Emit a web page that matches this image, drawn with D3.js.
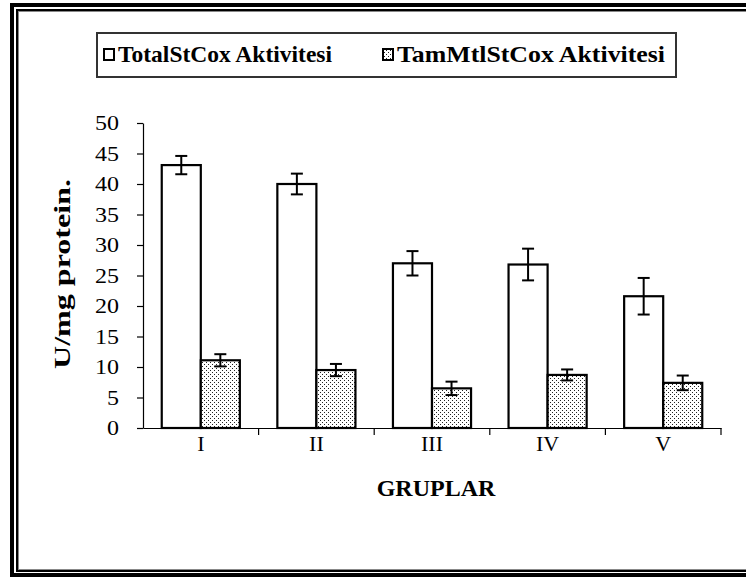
<!DOCTYPE html>
<html>
<head>
<meta charset="utf-8">
<script src="https://cdn.jsdelivr.net/npm/d3@7"></script>
<style>
  html, body { margin: 0; padding: 0; background: #fff; }
  svg { display: block; }
  svg text { font-family: "Times New Roman", "Liberation Serif", serif; fill: #000; }
</style>
</head>
<body>
<svg id="chart" width="746" height="577"></svg>
<script>
// Enzyme activity per group (U/mg protein), mean and error
const groups = ["I", "II", "III", "IV", "V"];
const seriesNames = ["TotalStCox Aktivitesi", "TamMtlStCox Aktivitesi"];
const totalValues = [43.1, 40.0, 27.0, 26.8, 21.6];
const totalErrors = [1.5, 1.7, 2.0, 2.6, 3.0];
const mtlValues = [11.1, 9.5, 6.5, 8.7, 7.4];
const mtlErrors = [1.0, 1.0, 1.1, 0.9, 1.2];
const yTickValues = [0, 5, 10, 15, 20, 25, 30, 35, 40, 45, 50];
const yTitle = "U/mg protein.";
const xTitle = "GRUPLAR";

const SERIF = '"Times New Roman", "Liberation Serif", serif';
const svg = d3.select("#chart");

// dotted fill for the second series
const defs = svg.append("defs");
const pat = defs.append("pattern")
  .attr("id", "dots").attr("patternUnits", "userSpaceOnUse")
  .attr("width", 4).attr("height", 4);
pat.append("rect").attr("width", 4).attr("height", 4).attr("fill", "#fff");
pat.append("rect").attr("x", 0).attr("y", 0).attr("width", 1).attr("height", 1).attr("fill", "#222");
pat.append("rect").attr("x", 2).attr("y", 2).attr("width", 1).attr("height", 1).attr("fill", "#222");

// double frame round the whole picture
svg.append("rect").attr("x", 12).attr("y", 5).attr("width", 800).attr("height", 570)
  .attr("fill", "none").attr("stroke", "#000").attr("stroke-width", 4);
svg.append("rect").attr("x", 17).attr("y", 10).attr("width", 800).attr("height", 561)
  .attr("fill", "none").attr("stroke", "#000").attr("stroke-width", 2);
svg.append("rect").attr("x", 18.5).attr("y", 11.5).attr("width", 800).attr("height", 558)
  .attr("fill", "none").attr("stroke", "#888").attr("stroke-width", 1);

// scales
const plotLeft = 143, plotRight = 721, plotTop = 123, plotBottom = 428;
const x = d3.scaleBand().domain(groups).range([plotLeft, plotRight]).padding(0);
const xSeries = d3.scaleBand().domain([0, 1]).range([0, x.bandwidth()])
  .paddingInner(0).paddingOuter(0.48);
const y = d3.scaleLinear().domain([0, 50]).range([plotBottom, plotTop]);

// y axis
const yAxis = svg.append("g").attr("transform", `translate(${plotLeft},0)`)
  .call(d3.axisLeft(y).tickValues(yTickValues).tickSize(6).tickSizeOuter(0).tickPadding(18));
yAxis.attr("font-family", null);
yAxis.select(".domain").attr("stroke", "#000").attr("stroke-width", 1.2);
yAxis.selectAll(".tick line").attr("stroke", "#000").attr("stroke-width", 1.2);
yAxis.selectAll(".tick text")
  .style("font-family", SERIF).style("font-size", "21px")
  .attr("textLength", d => String(d).length * 12).attr("lengthAdjust", "spacingAndGlyphs");

// x axis: labels centred under each group, ticks on group edges
const xAxis = svg.append("g").attr("transform", `translate(0,${plotBottom})`)
  .call(d3.axisBottom(x).tickSize(0).tickPadding(7).tickSizeOuter(0));
xAxis.attr("font-family", null);
xAxis.select(".domain").attr("stroke", "#000").attr("stroke-width", 1.2);
xAxis.selectAll(".tick text")
  .style("font-family", SERIF).style("font-size", "22px");
const edges = groups.slice(1).map(g => x(g)).concat([plotRight]);
xAxis.selectAll("line.edge").data(edges).join("line").attr("class", "edge")
  .attr("x1", d => d).attr("x2", d => d).attr("y1", 0).attr("y2", 7)
  .attr("stroke", "#000").attr("stroke-width", 1.2);

// bars
const seriesData = [
  { values: totalValues, errors: totalErrors, fill: "#fff" },
  { values: mtlValues, errors: mtlErrors, fill: "url(#dots)" }
];
seriesData.forEach((s, si) => {
  const g = svg.append("g");
  g.selectAll("rect").data(groups).join("rect")
    .attr("x", d => x(d) + xSeries(si))
    .attr("y", (d, i) => y(s.values[i]))
    .attr("width", xSeries.bandwidth())
    .attr("height", (d, i) => y(0) - y(s.values[i]))
    .attr("fill", s.fill).attr("stroke", "#000").attr("stroke-width", 2.2);
  // error bars
  const cx = d => x(d) + xSeries(si) + xSeries.bandwidth() / 2;
  const eb = g.selectAll("g.err").data(groups).join("g").attr("class", "err");
  eb.append("line")
    .attr("x1", cx).attr("x2", cx)
    .attr("y1", (d, i) => y(s.values[i] + s.errors[i]))
    .attr("y2", (d, i) => y(s.values[i] - s.errors[i]))
    .attr("stroke", "#000").attr("stroke-width", 2);
  [1, -1].forEach(sign => {
    eb.append("line")
      .attr("x1", d => cx(d) - 6).attr("x2", d => cx(d) + 6)
      .attr("y1", (d, i) => y(s.values[i] + sign * s.errors[i]))
      .attr("y2", (d, i) => y(s.values[i] + sign * s.errors[i]))
      .attr("stroke", "#000").attr("stroke-width", 2);
  });
});

// axis titles
svg.append("text").attr("x", 436).attr("y", 496).attr("text-anchor", "middle")
  .style("font-family", SERIF).style("font-size", "24px").style("font-weight", "bold")
  .text(xTitle);
svg.append("text").attr("transform", "translate(70,274) rotate(-90)")
  .attr("text-anchor", "middle")
  .style("font-family", SERIF).style("font-size", "23px").style("font-weight", "bold")
  .attr("textLength", 190).attr("lengthAdjust", "spacingAndGlyphs").text(yTitle);

// legend
const legend = svg.append("g");
legend.append("rect").attr("x", 97).attr("y", 33).attr("width", 579).attr("height", 44)
  .attr("fill", "#fff").attr("stroke", "#333").attr("stroke-width", 2);
const legendX = [104, 383];
const legendWidths = [214, 268];
const legendFills = ["#fff", "url(#dots)"];
seriesNames.forEach((name, i) => {
  legend.append("rect").attr("x", legendX[i]).attr("y", 49).attr("width", 10).attr("height", 11)
    .attr("fill", legendFills[i]).attr("stroke", "#000").attr("stroke-width", 2);
  legend.append("text").attr("x", legendX[i] + 14).attr("y", 62)
    .style("font-family", SERIF).style("font-size", "24px").style("font-weight", "bold")
    .attr("textLength", legendWidths[i]).attr("lengthAdjust", "spacingAndGlyphs")
    .text(name);
});
</script>
</body>
</html>
